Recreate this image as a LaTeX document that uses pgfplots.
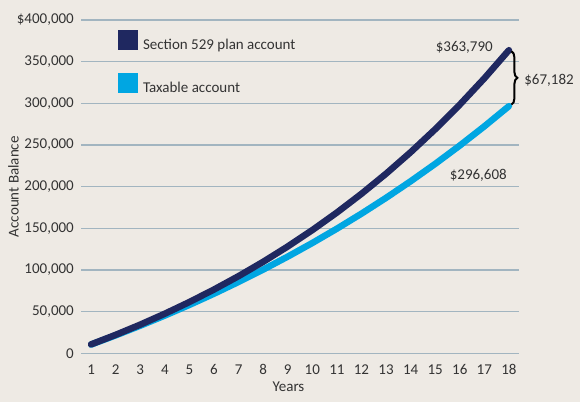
\documentclass[border=0pt]{standalone}
\usepackage{fontspec}
\setmainfont{Carlito}
\usepackage{pgfplots}
\pgfplotsset{compat=1.18}
\usetikzlibrary{decorations.pathreplacing}
\definecolor{bg}{RGB}{238,234,228}
\definecolor{navy}{RGB}{31,40,96}
\definecolor{sky}{RGB}{0,166,226}
\definecolor{gridc}{RGB}{162,181,192}
\definecolor{txt}{RGB}{51,51,51}
\newcommand{\ff}{\fontsize{15}{17}\selectfont}
\begin{document}
\begin{tikzpicture}
\fill[bg] (0,0) rectangle (580pt,402pt);
\begin{axis}[
  at={(81pt,48.7pt)}, anchor=south west,
  scale only axis, width=438pt, height=333.3pt,
  xmin=0.59, xmax=18.41, ymin=0, ymax=400000,
  clip=false,
  axis line style={draw=none},
  major tick length=0pt,
  xtick={1,...,18},
  ytick={0,50000,100000,150000,200000,250000,300000,350000,400000},
  yticklabels={0,{50,000},{100,000},{150,000},{200,000},{250,000},{300,000},{350,000},{\$400,000}},
  scaled y ticks=false,
  ymajorgrids, grid style={gridc, line width=1.5pt},
  tick label style={font=\ff, text=txt},
  /pgf/number format/assume math mode=true,
  xticklabel style={inner sep=0pt, anchor=north, yshift=-11pt},
  yticklabel style={inner sep=0pt, anchor=east, xshift=-7pt},
  xlabel={Years},
  ylabel={Account Balance},
  every axis x label/.style={at={(axis description cs:0.4737,-0.101)}, anchor=center, font=\ff, text=txt},
  every axis y label/.style={at={(axis description cs:-0.1541,0.5)}, rotate=90, anchor=center, font=\ff, text=txt},
  legend style={at={(axis description cs:0.0845,0.97)}, anchor=north west, draw=none, fill=none,
    inner sep=0pt, outer sep=0pt, row sep=22pt, font=\ff, text=txt,
    nodes={inner sep=0pt}, /tikz/every odd column/.append style={column sep=5pt}},
  legend cell align=left,
  legend image code/.code={\fill[#1, draw=none] (0pt,-5pt) rectangle (20pt,15pt);},
]
\addplot[color=sky, line width=6.5pt, line cap=round, line join=round, forget plot] coordinates {
(1,10504) (2,21537) (3,33127) (4,45300) (5,58088) (6,71519) (7,85628) (8,100447) (9,116014)
(10,132365) (11,149540) (12,167581) (13,186531) (14,206436) (15,227345) (16,249307) (17,272376) (18,296608)
};
\addplot[color=navy, line width=6.5pt, line cap=round, line join=round] coordinates {
(1,10700) (2,22149) (3,34399) (4,47507) (5,61533) (6,76540) (7,92598) (8,109780) (9,128164)
(10,147836) (11,168885) (12,191406) (13,215505) (14,241290) (15,268881) (16,298402) (17,329990) (18,363790)
};
\addlegendentry{Section 529 plan account}
\addlegendimage{color=sky}
\addlegendentry{Taxable account}
\node[anchor=east, font=\ff, text=txt, inner sep=0pt] at (axis cs:17.35,367600) {\$363,790};
\node[anchor=east, font=\ff, text=txt, inner sep=0pt] at (axis cs:17.92,214000) {\$296,608};
\node[anchor=west, font=\ff, text=txt, inner sep=0pt] at (axis cs:18.62,328000) {\$67,182};
\draw[decorate, decoration={brace, amplitude=6pt}, line width=2pt] (axis cs:18.1,362500) -- (axis cs:18.1,298500);
\end{axis}
\end{tikzpicture}
\end{document}
